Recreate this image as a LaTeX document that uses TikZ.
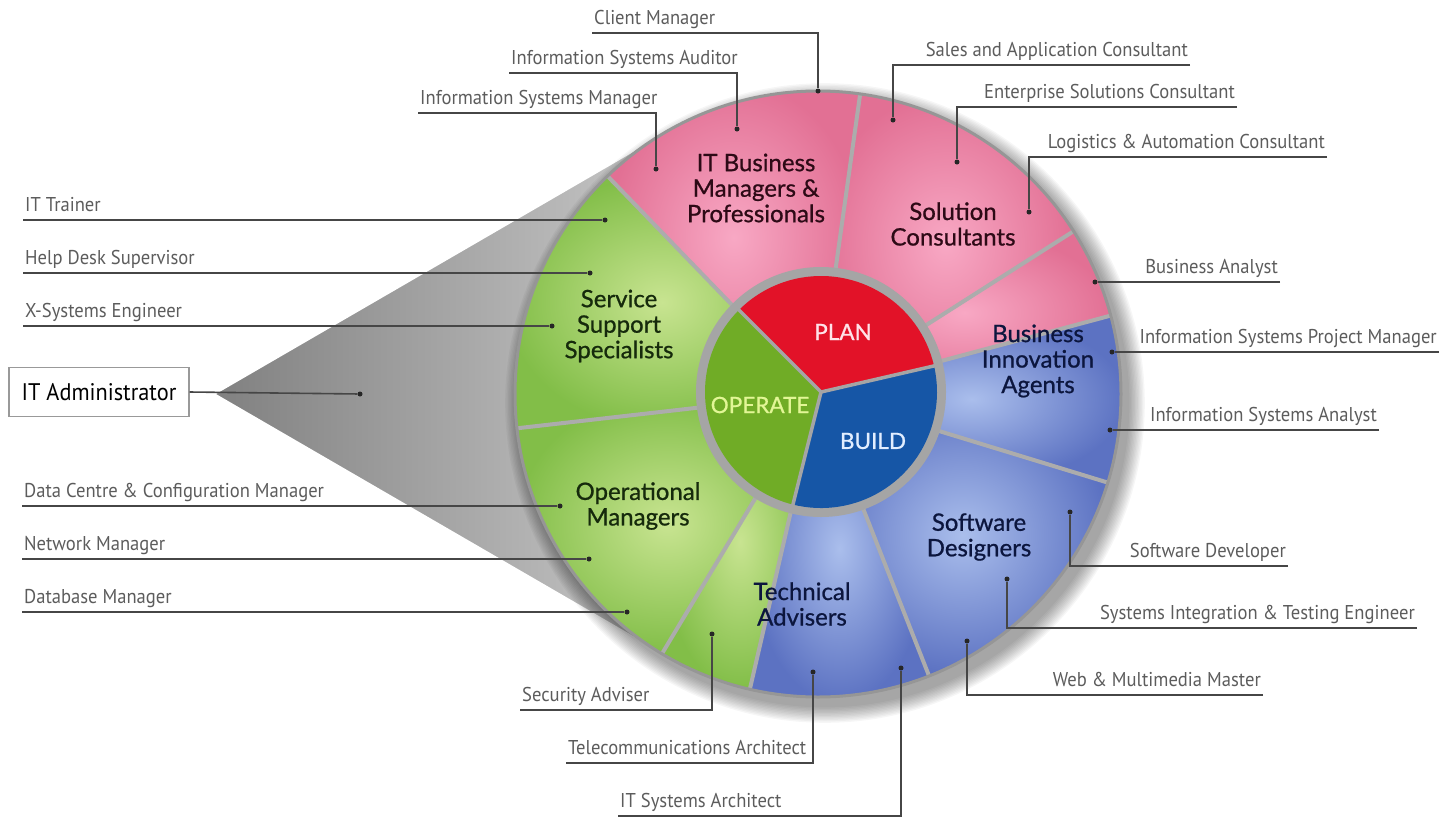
\documentclass[tikz,border=0pt]{standalone}
\usepackage{fontspec}
\setmainfont{Lato}
\newfontfamily\rolefont[FakeStretch=0.93]{PT Sans}
\newfontfamily\segfont[FakeBold=0.8]{Lato}
\usetikzlibrary{calc}

\definecolor{pinkL}{RGB}{248,168,196}
\definecolor{pinkD}{RGB}{226,112,148}
\definecolor{greenL}{RGB}{200,228,145}
\definecolor{greenD}{RGB}{130,190,72}
\definecolor{blueL}{RGB}{170,190,236}
\definecolor{blueD}{RGB}{92,114,194}
\definecolor{planred}{RGB}{226,18,40}
\definecolor{opgreen}{RGB}{112,172,38}
\definecolor{buildblue}{RGB}{22,86,166}
\definecolor{ringgray}{RGB}{165,165,165}
\definecolor{sepgray}{RGB}{172,172,172}
\definecolor{rimgray}{RGB}{150,150,150}
\definecolor{conedark}{RGB}{128,128,128}
\definecolor{conelight}{RGB}{200,200,200}
\definecolor{roletxt}{RGB}{92,92,92}
\definecolor{leadgray}{RGB}{70,70,70}
\definecolor{pinktxt}{RGB}{45,10,22}
\definecolor{greentxt}{RGB}{22,42,12}
\definecolor{bluetxt}{RGB}{12,22,62}
\definecolor{plantxt}{RGB}{255,226,232}
\definecolor{optxt}{RGB}{226,246,150}
\definecolor{buildtxt}{RGB}{226,238,255}

\tikzset{
  role/.style={font=\rolefont\fontsize{20}{24}\selectfont, text=roletxt,
    inner xsep=2pt, inner ysep=2.5pt, text depth=6pt},
  leader/.style={draw=leadgray, line width=1.6pt},
  dot/.style={circle, fill=black!85, inner sep=0pt, minimum size=5pt},
  seglabel/.style={font=\segfont\fontsize{24}{25.5}\selectfont, align=center},
  corelabel/.style={font=\segfont\fontsize{22.5}{26}\selectfont},
  sepline/.style={draw=sepgray, line width=4pt},
  conerim/.style={draw=white, line width=2pt},
  adminbox/.style={draw=gray!80, line width=1.2pt, fill=white, minimum width=180pt,
    minimum height=49pt, font=\rolefont\fontsize{24}{28}\selectfont, text=black},
}

\begin{document}
\begin{tikzpicture}[x=1pt,y=-1pt]
\useasboundingbox (0,0) rectangle (1444,820);
\coordinate (C) at (818,394);
\coordinate (Ci) at (821,392);
\def\R{303}

% cone towards the administrator
\coordinate (apex) at (214,394);
\coordinate (tanU) at ($(C)+(-120.2:\R)$);
\coordinate (tanL) at ($(C)+(120.2:\R)$);
\shade[left color=conedark, right color=conelight] (apex) -- (tanU) -- (tanL) -- cycle;
\draw[conerim] (apex) -- (tanU);
\draw[conerim] (apex) -- (tanL);

% soft shadow
\foreach \k in {1,...,12}
  \fill[black, opacity=0.035] ($(C)+(7,9)$) circle ({\R+\k*1.4});

% outer segments
\foreach \a/\b/\cl/\cd in {-82/-134/pinkL/pinkD, -32.5/-82/pinkL/pinkD,
    -15/-32.5/pinkL/pinkD, 17/-15/blueL/blueD, 68.5/17/blueL/blueD,
    103/68.5/blueL/blueD, 121/103/greenL/greenD, 173.5/121/greenL/greenD,
    -134/-186.5/greenL/greenD}
  \shade[inner color=\cl, outer color=\cd] (C) -- ++(\a:\R)
    arc[start angle=\a, end angle=\b, radius=\R] -- cycle;
\foreach \a in {-134,-82,-32.5,-15,17,68.5,103,121,173.5}
  \draw[sepline] ($(C)+(\a:110)$) -- ($(C)+(\a:\R)$);
\draw[rimgray, line width=3pt] (C) circle (\R);

% core
\fill[ringgray] (Ci) circle (125);
\fill[planred] (Ci) -- ++(-13:116) arc[start angle=-13, end angle=-135, radius=116] -- cycle;
\fill[opgreen] (Ci) -- ++(-135:116) arc[start angle=-135, end angle=-256, radius=116] -- cycle;
\fill[buildblue] (Ci) -- ++(-256:116) arc[start angle=-256, end angle=-373, radius=116] -- cycle;
\foreach \a in {-13,-135,-256}
  \draw[ringgray, line width=3.5pt] (Ci) -- ++(\a:119);

\node[corelabel, text=plantxt] (plan) at (843,332) {PLAN};
\node[corelabel, text=optxt] (operate) at (760,405) {OPERATE};
\node[corelabel, text=buildtxt] (build) at (873,441) {BUILD};

% segment names
\node[seglabel, text=pinktxt] (itb) at (756,188) {IT Business\\Managers \&\\Professionals};
\node[seglabel, text=pinktxt] (sol) at (953,224) {Solution\\Consultants};
\node[seglabel, text=bluetxt] (bia) at (1038,361) {Business\\Innovation\\Agents};
\node[seglabel, text=bluetxt] (swd) at (979,537) {Software\\Designers};
\node[seglabel, text=bluetxt] (tad) at (802,604) {Technical\\Advisers};
\node[seglabel, text=greentxt] (opm) at (638,506) {Operational\\Managers};
\node[seglabel, text=greentxt] (sss) at (619,326) {Service\\Support\\Specialists};

% dots
\node[dot] (dAdmin) at (360,394) {};
\node[dot] (dTrainer) at (605,220) {};
\node[dot] (dHelp) at (590,273) {};
\node[dot] (dXsys) at (552,326) {};
\node[dot] (dData) at (560,506) {};
\node[dot] (dNet) at (589,559) {};
\node[dot] (dDb) at (627,612) {};
\node[dot] (dISM) at (656,169) {};
\node[dot] (dAud) at (737,129) {};
\node[dot] (dClient) at (818,91) {};
\node[dot] (dSales) at (893,120) {};
\node[dot] (dEnt) at (957,162) {};
\node[dot] (dLog) at (1029,212) {};
\node[dot] (dBA) at (1095,282) {};
\node[dot] (dISPM) at (1112,352) {};
\node[dot] (dISA) at (1110,430) {};
\node[dot] (dSwDev) at (1070,512) {};
\node[dot] (dSIT) at (1007,579) {};
\node[dot] (dWeb) at (967,641) {};
\node[dot] (dSec) at (712,634) {};
\node[dot] (dTel) at (813,672) {};
\node[dot] (dITSA) at (901,668) {};

% administrator
\node[adminbox] (admin) at (99,392) {IT Administrator};
\draw[leader] (admin.east) -- (dAdmin);

% left roles
\node[role, anchor=south west] (lTrainer) at (23,220) {IT Trainer};
\node[role, anchor=south west] (lHelp) at (23,273) {Help Desk Supervisor};
\node[role, anchor=south west] (lXsys) at (23,326) {X-Systems Engineer};
\node[role, anchor=south west] (lData) at (22,506) {Data Centre \& Configuration Manager};
\node[role, anchor=south west] (lNet) at (22,559) {Network Manager};
\node[role, anchor=south west] (lDb) at (22,612) {Database Manager};
\draw[leader] (lTrainer.south west) -- (dTrainer);
\draw[leader] (lHelp.south west) -- (dHelp);
\draw[leader] (lXsys.south west) -- (dXsys);
\draw[leader] (lData.south west) -- (dData);
\draw[leader] (lNet.south west) -- (dNet);
\draw[leader] (lDb.south west) -- (dDb);

% top roles
\node[role, anchor=south west] (lISM) at (418,113) {Information Systems Manager};
\node[role, anchor=south west] (lAud) at (509,73) {Information Systems Auditor};
\node[role, anchor=south west] (lClient) at (592,33) {Client Manager};
\draw[leader] (lISM.south west) -| (dISM);
\draw[leader] (lAud.south west) -| (dAud);
\draw[leader] (lClient.south west) -| (dClient);

% right roles
\node[role, anchor=south east] (lSales) at (1190,65) {Sales and Application Consultant};
\node[role, anchor=south east] (lEnt) at (1237,107) {Enterprise Solutions Consultant};
\node[role, anchor=south east] (lLog) at (1327,157) {Logistics \& Automation Consultant};
\node[role, anchor=south east] (lBA) at (1280,282) {Business Analyst};
\node[role, anchor=south east] (lISPM) at (1439,352) {Information Systems Project Manager};
\node[role, anchor=south east] (lISA) at (1379,430) {Information Systems Analyst};
\node[role, anchor=south east] (lSwDev) at (1288,566) {Software Developer};
\node[role, anchor=south east] (lSIT) at (1417,628) {Systems Integration \& Testing Engineer};
\node[role, anchor=south east] (lWeb) at (1263,695) {Web \& Multimedia Master};
\draw[leader] (lSales.south east) -| (dSales);
\draw[leader] (lEnt.south east) -| (dEnt);
\draw[leader] (lLog.south east) -| (dLog);
\draw[leader] (lBA.south east) -- (dBA);
\draw[leader] (lISPM.south east) -- (dISPM);
\draw[leader] (lISA.south east) -- (dISA);
\draw[leader] (lSwDev.south east) -| (dSwDev);
\draw[leader] (lSIT.south east) -| (dSIT);
\draw[leader] (lWeb.south east) -| (dWeb);

% bottom roles
\node[role, anchor=south west] (lSec) at (520,710) {Security Adviser};
\node[role, anchor=south west] (lTel) at (566,763) {Telecommunications Architect};
\node[role, anchor=south west] (lITSA) at (618,816) {IT Systems Architect};
\draw[leader] (lSec.south west) -| (dSec);
\draw[leader] (lTel.south west) -| (dTel);
\draw[leader] (lITSA.south west) -| (dITSA);
\end{tikzpicture}
\end{document}
